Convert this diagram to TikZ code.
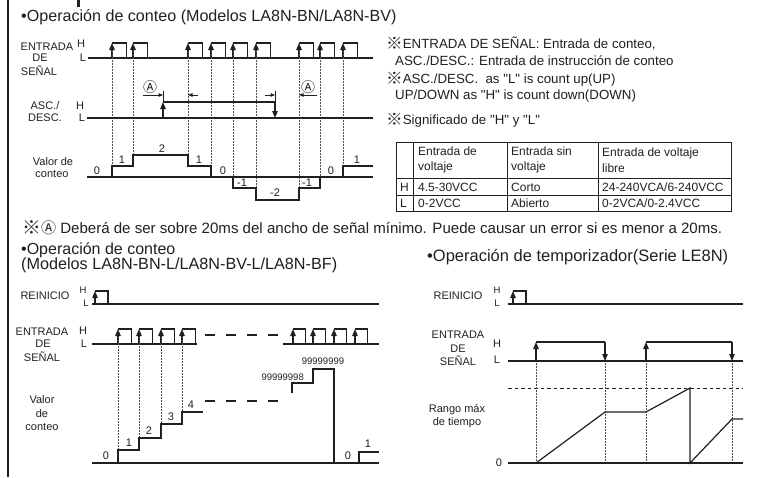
\documentclass[tikz,border=0pt]{standalone}
\usepackage{fontspec}
\usepackage{graphicx}
\setmainfont{Liberation Sans}[Ligatures=TeXOff]
\newfontfamily\cjk{Noto Sans CJK JP}
\usetikzlibrary{arrows.meta}
\newcommand{\fsz}[1]{\fontsize{#1}{#1}\selectfont}
\newcommand{\refm}{\raisebox{-0.05em}{\scalebox{1.25}{\cjk ※}}}
\newcommand{\circA}{{\cjk Ⓐ}}
\definecolor{ink}{HTML}{231F20}
\begin{document}
\begin{tikzpicture}[x=1pt,y=-1pt,
  sig/.style={line width=1.2pt,draw=ink},
  dotl/.style={line width=0.9pt,draw=ink!80,dash pattern=on 1.6pt off 1.4pt},
  upa/.style={-{Triangle[width=5.5pt,length=7pt]}},
  dim/.style={line width=0.6pt,draw=ink,-{Triangle[width=3.5pt,length=4.5pt]}},
  lbl/.style={font=\fsz{11},text=ink,inner sep=0pt},
  sml/.style={font=\fsz{9.5},text=ink,inner sep=0pt},
  txt/.style={font=\fsz{13.3},text=ink,inner sep=0pt,anchor=west},
  head/.style={font=\fsz{16},text=ink,inner sep=0pt,anchor=west},
  cell/.style={font=\fontsize{12}{15.5}\selectfont,text=ink,inner sep=0pt,anchor=west,align=left}]
\useasboundingbox (0,0) rectangle (759,477);
\fill[white] (0,0) rectangle (759,477);
% frame
\draw[line width=2pt,draw=ink] (8,0) -- (8,477);
\fill[ink] (77,0) rectangle (80,7);
% ===== top title
\node[head,font=\fsz{16.1}] (title1) at (21,17) {\textbullet Operación de conteo (Modelos LA8N-BN/LA8N-BV)};
% ===== top timing labels
\node[lbl] (e1) at (47,47) {ENTRADA};
\node[lbl] (e2) at (40,58) {DE};
\node[lbl] (e3) at (39,71) {SEÑAL};
\node[lbl] (eH) at (81,44) {H};
\node[lbl] (eL) at (83,58) {L};
\node[lbl] (a1) at (45,106) {ASC./};
\node[lbl] (a2) at (45,118) {DESC.};
\node[lbl] (aH) at (80,106) {H};
\node[lbl] (aL) at (82,118) {L};
\node[lbl] (v1) at (53,162) {Valor de};
\node[lbl] (v2) at (52,174) {conteo};
% signal input
\draw[sig] (88,58) -- (373,58);
\foreach \r in {112,133,188,211,233,256,299,320,343}{
  \draw[sig] (\r,43) -- ({\r+14.5},43) -- ({\r+14.5},58);
  \draw[sig,upa] (\r,58) -- (\r,43);
}
% dotted verticals
\foreach \r/\e in {112/166,133/155,188/155,211/166,233/177,256/188,299/188,320/177,343/166}{
  \draw[dotl] (\r,51) -- (\r,\e);
}
% ASC/DESC
\draw[sig] (87,118) -- (373,118);
\draw[sig] (163,102) -- (275,102);
\draw[sig,upa] (163,118) -- (163,102);
\draw[sig,upa] (275,102) -- (275,118);
\draw[line width=0.6pt,draw=ink] (163,102) -- (163,91);
\draw[line width=0.6pt,draw=ink] (275,102) -- (275,91);
\draw[dim] (143,95) -- (163,95);
\draw[dim] (198,95) -- (188,95);
\draw[dim] (265,95) -- (275,95);
\draw[dim] (317,95) -- (299,95);
\node[sml,font=\fsz{14}] (A1) at (150,87) {\circA};
\node[sml,font=\fsz{14}] (A2) at (308,87) {\circA};
% count
\draw[sig] (87,177) -- (373,177);
\draw[sig] (112,177) |- (133,166) |- (188,155) |- (211,166) |- (233,177)
  |- (256,188) |- (299,200) |- (320,188) |- (343,177) |- (373,166);
\foreach \x/\y/\t [count=\i] in {97/171/0,122/160/1,162/149/2,199/160/1,223/171/0,
  242/183/-1,275/193/-2,307/183/-1,331/171/0,357/160/1}{
  \node[lbl] (c\i) at (\x,\y) {\t};
}
% ===== right text
\node[txt] (r1) at (386,44) {\refm ENTRADA DE SEÑAL: Entrada de conteo,};
\node[txt] (r2) at (395,61) {ASC./DESC.: Entrada de instrucción de conteo};
\node[txt] (r3) at (386,79) {\refm ASC./DESC.\ \ as "L" is count up(UP)};
\node[txt] (r4) at (395,96) {UP/DOWN as "H" is count down(DOWN)};
\node[txt] (r5) at (386,120) {\refm Significado de "H" y "L"};
% table
\draw[line width=0.7pt,draw=ink] (396,142) rectangle (731,211);
\foreach \x in {413,507,598}{ \draw[line width=0.7pt,draw=ink] (\x,142) -- (\x,211); }
\foreach \y in {178,195}{ \draw[line width=0.7pt,draw=ink] (396,\y) -- (731,\y); }
\node[cell] (h1) at (418,160) {Entrada de\\voltaje};
\node[cell] (h2) at (511,160) {Entrada sin\\voltaje};
\node[cell] (h3) at (602,160) {Entrada de voltaje\\libre};
\node[cell] (rH) at (400,187) {H};
\node[cell] (rH1) at (418,187) {4.5-30VCC};
\node[cell] (rH2) at (511,187) {Corto};
\node[cell] (rH3) at (602,187) {24-240VCA/6-240VCC};
\node[cell] (rL) at (400,203) {L};
\node[cell] (rL1) at (418,203) {0-2VCC};
\node[cell] (rL2) at (511,203) {Abierto};
\node[cell] (rL3) at (602,203) {0-2VCA/0-2.4VCC};
% note
\node[txt,font=\fsz{15}] (note) at (22,228) {\resizebox{700pt}{\height}{\refm\circA{} Deberá de ser sobre 20ms del ancho de señal mínimo. Puede causar un error si es menor a 20ms.}};
% headings
\node[head] (hb1) at (21,250) {\textbullet Operación de conteo};
\node[head,font=\fsz{16.2}] (hb2) at (21,265) {(Modelos LA8N-BN-L/LA8N-BV-L/LA8N-BF)};
\node[head,font=\fsz{16.5}] (hb3) at (427,257) {\textbullet Operación de temporizador(Serie LE8N)};
% ===== bottom-left timing
\node[lbl] (bR) at (45,296) {REINICIO};
\node[sml] (bRH) at (83,290) {H};
\node[sml] (bRL) at (86,303) {L};
\node[lbl] (bE1) at (42,332) {ENTRADA};
\node[lbl] (bE2) at (43,344) {DE};
\node[lbl] (bE3) at (42,357) {SEÑAL};
\node[lbl] (bEH) at (83,331) {H};
\node[lbl] (bEL) at (84,344) {L};
\node[lbl] (bV1) at (42,400) {Valor};
\node[lbl] (bV2) at (42,414) {de};
\node[lbl] (bV3) at (42,427) {conteo};
\draw[sig] (92,304) -- (379,304);
\draw[sig] (95,291) -- (108,291) -- (108,304);
\draw[sig,upa] (95,304) -- (95,291);
\draw[sig] (92,344) -- (197,344);
\draw[sig] (283,344) -- (379,344);
\foreach \r in {118,139,161,182}{
  \draw[sig] (\r,329) -- ({\r+13.5},329) -- ({\r+13.5},344);
  \draw[sig,upa] (\r,344) -- (\r,329);
}
\foreach \r in {293,313,334,355}{
  \draw[sig] (\r,329) -- ({\r+12.5},329) -- ({\r+12.5},344);
  \draw[sig,upa] (\r,344) -- (\r,329);
}
\draw[sig,dash pattern=on 10pt off 11pt] (205,335) -- (280,335);
\foreach \r/\e in {118/450,139/438,161/424,182/412}{
  \draw[dotl] (\r,337) -- (\r,\e);
}
\draw[sig] (92,463) -- (379,463);
\draw[sig] (118,463) |- (139,450) |- (161,438) |- (182,424) |- (203,412);
\draw[sig,dash pattern=on 10pt off 11pt] (205,401) -- (280,401);
\draw[sig] (292,393) |- (313,383) |- (334,369) -- (334,463);
\draw[sig] (359,463) |- (379,452);
\foreach \x/\y/\t [count=\i] in {106/456/0,129/443/1,149/431/2,171/417/3,191/405/4,348/456/0,368/444/1}{
  \node[lbl] (bc\i) at (\x,\y) {\t};
}
\node[sml,anchor=east] (n98) at (304,377) {99999998};
\node[sml] (n99) at (323,361) {99999999};
% ===== bottom-right timing
\node[lbl] (tR) at (458,296) {REINICIO};
\node[sml] (tRH) at (497,290) {H};
\node[sml] (tRL) at (497,303) {L};
\node[lbl] (tE1) at (458,335) {ENTRADA};
\node[lbl] (tE2) at (458,349) {DE};
\node[lbl] (tE3) at (458,361) {SEÑAL};
\node[lbl] (tEH) at (497,344) {H};
\node[lbl] (tEL) at (497,360) {L};
\node[lbl] (tG1) at (457,410) {Rango máx};
\node[lbl] (tG2) at (457,423) {de tiempo};
\node[lbl] (t0) at (499,463) {0};
\draw[sig] (508,304) -- (743,304);
\draw[sig] (513,291) -- (526,291) -- (526,304);
\draw[sig,upa] (513,304) -- (513,291);
\draw[sig] (508,361) -- (743,361);
\draw[sig] (536,342) -- (605,342);
\draw[sig] (646,342) -- (732,342);
\draw[sig,upa] (536,361) -- (536,342);
\draw[sig,upa] (605,342) -- (605,361);
\draw[sig,upa] (646,361) -- (646,342);
\draw[sig,upa] (732,342) -- (732,361);
\draw[line width=0.9pt,draw=ink,dash pattern=on 3.5pt off 3pt] (508,388) -- (743,388);
\foreach \r in {536,605,646,732}{ \draw[dotl] (\r,363) -- (\r,463); }
\draw[sig] (508,463) -- (743,463);
\draw[sig] (536,463) -- (605,412) -- (646,412) -- (690,388) -- (690,463) -- (732,419) -- (743,419);
\end{tikzpicture}
\end{document}
